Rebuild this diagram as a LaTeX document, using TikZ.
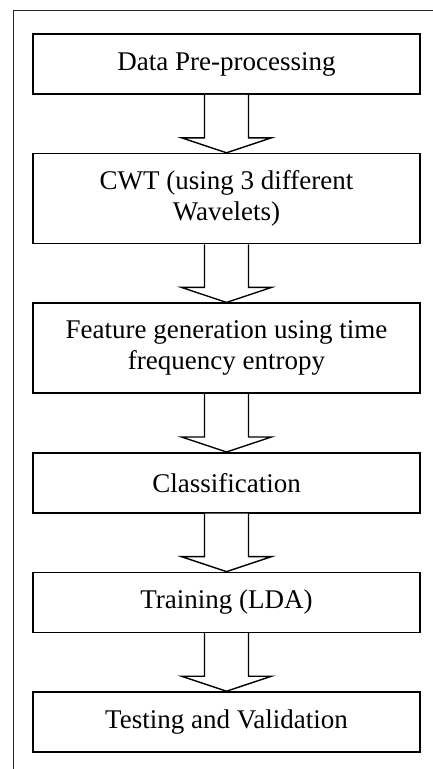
\documentclass[tikz,border=0pt]{standalone}
\usepackage{fontspec}
\setmainfont{Liberation Serif}
\usetikzlibrary{positioning,calc}

\begin{document}
\begin{tikzpicture}[x=1pt,y=1pt,
  stage/.style={draw=black,line width=1.6pt,minimum width=387pt,minimum height=60pt,
    align=center,inner sep=2pt,font=\fontsize{27}{31}\selectfont},
  tall/.style={minimum height=90pt},
  hollow/.style={draw=black,line width=1.4pt,fill=white,line join=miter}]
\useasboundingbox (0,0) rectangle (433,-769);
\draw [black!85,line width=1pt] (13,-769) -- (13,-10) -- (433,-10);
\node[stage] (pre) at (226.5,-64) {Data Pre-processing};
\node[stage,tall,below=58pt of pre] (cwt) {CWT (using 3 different\\Wavelets)};
\node[stage,tall,below=58pt of cwt] (feat) {Feature generation using time\\frequency entropy};
\node[stage,below=58pt of feat] (cls) {Classification};
\node[stage,below=58pt of cls] (train) {Training (LDA)};
\node[stage,below=58pt of train] (test) {Testing and Validation};
\foreach \a/\b in {pre/cwt,cwt/feat,feat/cls,cls/train,train/test}
  \draw[hollow] ($(\a.south)+(-22,0)$) -- ($(\b.north)+(-22,15)$) -- ($(\b.north)+(-45,15)$)
    -- (\b.north) -- ($(\b.north)+(45,15)$) -- ($(\b.north)+(22,15)$) -- ($(\a.south)+(22,0)$);
\end{tikzpicture}
\end{document}
